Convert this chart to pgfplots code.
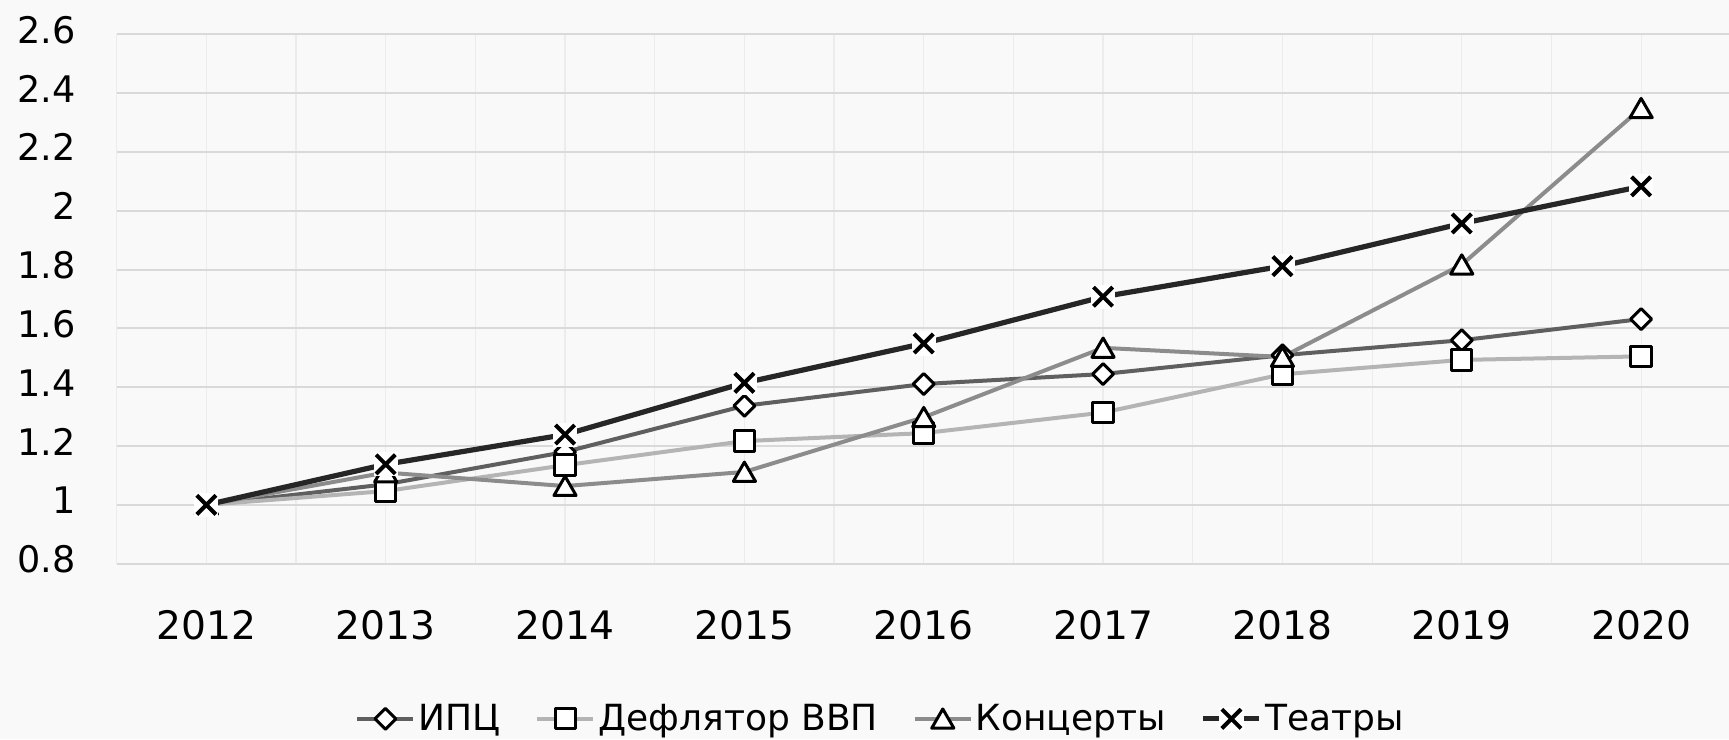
\documentclass[border=0pt]{standalone}
\usepackage{fontspec}
\setmainfont{DejaVu Sans}
\usepackage{pgfplots}
\pgfplotsset{compat=1.18}
\definecolor{bgcol}{RGB}{249,249,249}
\definecolor{hgrid}{RGB}{217,217,217}
\definecolor{vgrid}{RGB}{236,236,236}
\definecolor{cipc}{RGB}{95,95,95}
\definecolor{cdef}{RGB}{180,180,180}
\definecolor{ckon}{RGB}{140,140,140}
\definecolor{cteat}{RGB}{38,38,38}
\pgfdeclareplotmark{xbox}{%
  \pgfpathrectangle{\pgfqpoint{-1.26\pgfplotmarksize}{-1.26\pgfplotmarksize}}{\pgfqpoint{2.52\pgfplotmarksize}{2.52\pgfplotmarksize}}%
  \pgfsetfillcolor{white}\pgfusepathqfill
  \pgfpathmoveto{\pgfqpoint{-\pgfplotmarksize}{-\pgfplotmarksize}}%
  \pgfpathlineto{\pgfqpoint{\pgfplotmarksize}{\pgfplotmarksize}}%
  \pgfpathmoveto{\pgfqpoint{-\pgfplotmarksize}{\pgfplotmarksize}}%
  \pgfpathlineto{\pgfqpoint{\pgfplotmarksize}{-\pgfplotmarksize}}%
  \pgfusepathqstroke
}
\begin{document}
\begin{tikzpicture}
\path[use as bounding box, fill=bgcol] (0,0) rectangle (864.5pt,369.5pt);
\begin{axis}[
  at={(58.35pt,87.65pt)}, anchor=south west,
  scale only axis, width=806.15pt, height=264.65pt,
  xmin=2011.5, xmax=2020.49, ymin=0.8, ymax=2.6,
  axis line style={draw=none},
  clip=false,
  xtick={2012,2013,2014,2015,2016,2017,2018,2019,2020},
  xticklabels={2012,2013,2014,2015,2016,2017,2018,2019,2020},
  ytick={0.8,1,1.2,1.4,1.6,1.8,2,2.2,2.4,2.6},
  yticklabels={0.8,1,1.2,1.4,1.6,1.8,2,2.2,2.4,2.6},
  minor xtick={2011.5,2012.5,2013.5,2014.5,2015.5,2016.5,2017.5,2018.5,2019.5,2020.5},
  major tick length=0pt, minor tick length=0pt,
  xmajorgrids, xminorgrids, ymajorgrids,
  x grid style={draw=vgrid, line width=0.6pt},
  minor x grid style={draw=vgrid, line width=0.6pt},
  y grid style={draw=hgrid, line width=1pt},
  xticklabel style={font=\fontsize{19.6}{23}\selectfont, anchor=north, inner sep=0pt, yshift=-23pt},
  yticklabel style={font=\fontsize{18.3}{22}\selectfont, anchor=east, inner sep=0pt, xshift=-20.5pt, yshift=2.3pt},
  legend columns=4,
  legend style={at={(0.474,-0.293)}, anchor=center, draw=none, fill=none,
    font=\fontsize{18}{22}\selectfont,
    nodes={inner sep=1.5pt},
    /tikz/every even column/.append style={column sep=16pt}},
  legend image code/.code={\draw[mark repeat=2,mark phase=2,#1] plot coordinates {(0pt,0pt) (14pt,0pt) (28pt,0pt)};},
]
\addplot[cipc, line width=2pt, mark=square*, mark size=3.7pt, mark options={draw=black, fill=white, line width=1.5pt, solid, line join=round, rotate=45}] coordinates {
(2012,1.0) (2013,1.07) (2014,1.18) (2015,1.337) (2016,1.411) (2017,1.445) (2018,1.509) (2019,1.56) (2020,1.632)};
\addlegendentry{ИПЦ}
\addplot[cdef, line width=2pt, mark=square*, mark size=5.1pt, mark options={draw=black, fill=white, line width=1.5pt, solid, line join=round}] coordinates {
(2012,1.0) (2013,1.047) (2014,1.135) (2015,1.217) (2016,1.244) (2017,1.314) (2018,1.444) (2019,1.493) (2020,1.505)};
\addlegendentry{Дефлятор ВВП}
\addplot[ckon, line width=2pt, mark=triangle*, mark size=6.4pt, mark options={draw=black, fill=white, line width=1.5pt, solid, line join=round, yshift=-1.5pt}] coordinates {
(2012,1.0) (2013,1.11) (2014,1.064) (2015,1.112) (2016,1.298) (2017,1.534) (2018,1.503) (2019,1.817) (2020,2.349)};
\addlegendentry{Концерты}
\addplot[cteat, line width=2.6pt, mark=xbox, mark size=4.8pt, mark options={draw=black, line width=2pt, solid}] coordinates {
(2012,1.0) (2013,1.138) (2014,1.239) (2015,1.415) (2016,1.549) (2017,1.708) (2018,1.812) (2019,1.957) (2020,2.083)};
\addlegendentry{Театры}
\end{axis}
\end{tikzpicture}
\end{document}
